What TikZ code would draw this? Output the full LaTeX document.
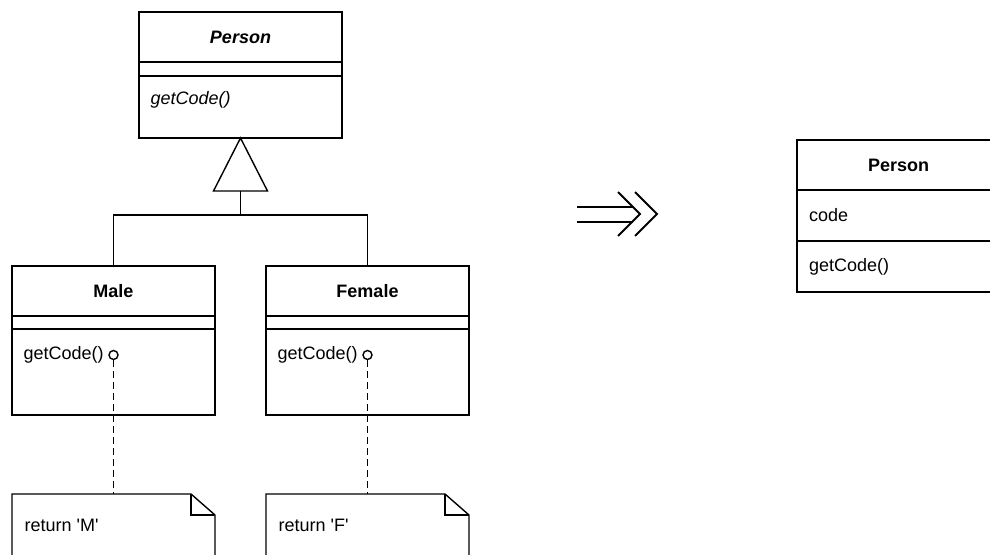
\documentclass[tikz,border=0pt]{standalone}
\usepackage{fontspec}
\setmainfont{Liberation Sans}
\usepackage{tikz}
\usetikzlibrary{positioning}

\tikzset{
  umlbox/.style={draw, line width=1.4pt, minimum width=203pt, inner sep=0pt, outer sep=0pt},
  umlname/.style={umlbox, minimum height=50pt, font=\fontsize{18}{22}\selectfont\bfseries},
  umlpart/.style={umlbox, text width=179pt, inner xsep=12pt, align=left, font=\fontsize{18}{22}\selectfont},
  optext/.style={inner sep=0pt, anchor=west, font=\fontsize{18}{22}\selectfont},
  lolly/.style={draw, circle, line width=1.4pt, minimum size=9pt, inner sep=0pt},
  notebox/.style={minimum width=203pt, minimum height=90pt, inner sep=0pt, outer sep=0pt, anchor=north west},
  notelink/.style={dash pattern=on 7pt off 4pt},
}

\begin{document}
\begin{tikzpicture}[x=1pt, y=-1pt, line width=1.4pt]
        \useasboundingbox (0,0) rectangle (990,554);
        % abstract class and subclasses
        \node[umlname, font=\fontsize{18}{22}\selectfont\bfseries\itshape, anchor=north west] (person) at (139,12) {Person};
        \node[umlpart, minimum height=14pt, below=0pt of person] (personattr) {};
        \node[umlpart, minimum height=62pt, below=0pt of personattr] (personops) {};
        \node[optext, font=\fontsize{18}{22}\selectfont\itshape] (persongc) at ([xshift=11pt, yshift=-24pt]personops.north west) {getCode()};
%
        \node[umlname, anchor=north west] (male) at (12,266) {Male};
        \node[umlpart, minimum height=13pt, below=0pt of male] (maleattr) {};
        \node[umlpart, minimum height=86pt, below=0pt of maleattr] (maleops) {};
        \node[optext] (malegc) at ([xshift=11pt, yshift=-26pt]maleops.north west) {getCode()};
        \node[lolly] (malelolly) at ([yshift=-26pt]maleops.north) {};
%
        \node[umlname, anchor=north west] (female) at (266,266) {Female};
        \node[umlpart, minimum height=13pt, below=0pt of female] (femaleattr) {};
        \node[umlpart, minimum height=86pt, below=0pt of femaleattr] (femaleops) {};
        \node[optext] (femalegc) at ([xshift=11pt, yshift=-26pt]femaleops.north west) {getCode()};
        \node[lolly] (femalelolly) at ([yshift=-26pt]femaleops.north) {};
%
        % generalization
        \coordinate (triapex) at (personops.south);
        \coordinate (tribase) at ([yshift=-53pt]triapex);
        \coordinate (fork) at ([yshift=-24pt]tribase);
        \draw (triapex) -- ([xshift=-27pt]tribase) -- ([xshift=27pt]tribase) -- cycle;
        \draw (tribase) -- (fork);
        \draw (male.north) |- (fork) -| (female.north);
%
        % notes
        \node[notebox] (malenote) at (12,494) {};
        \node[notebox] (femalenote) at (266,494) {};
        \node[optext] (maletext) at ([xshift=12pt, yshift=-31pt]malenote.north west) {return \textquotesingle M\textquotesingle};
        \node[optext] (femaletext) at ([xshift=12pt, yshift=-31pt]femalenote.north west) {return \textquotesingle F\textquotesingle};
        \foreach \n in {malenote, femalenote} {
            \draw (\n.south west) |- ([xshift=-24pt]\n.north east) -- ([yshift=-21pt]\n.north east) -- (\n.south east);
            \draw ([xshift=-24pt]\n.north east) |- ([yshift=-21pt]\n.north east);
        }
        \draw[notelink] (malelolly) -- (malenote);
        \draw[notelink] (femalelolly) -- (femalenote);
%
        % refactoring arrow
        \draw[line width=2pt] (577,207) -- (633,207) (577,222) -- (633,222);
        \draw[line width=2pt] (618,192) -- (640,214) -- (618,236) (635,192) -- (657,214) -- (635,236);
%
        % result class
        \node[umlname, anchor=north west] (newperson) at (797,140) {Person};
        \node[umlpart, minimum height=51pt, below=0pt of newperson] (newpersonattr) {code};
        \node[umlpart, minimum height=51pt, below=0pt of newpersonattr] (newpersonops) {getCode()};
\end{tikzpicture}
\end{document}
